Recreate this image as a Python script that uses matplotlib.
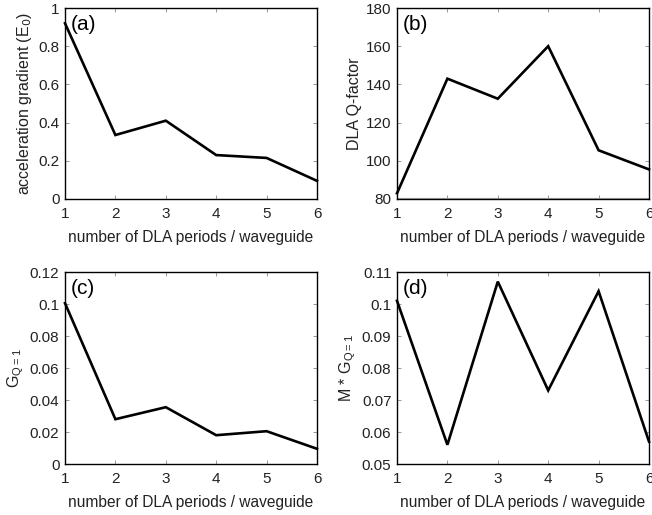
import matplotlib
matplotlib.use("Agg")
import matplotlib.pyplot as plt

plt.rcParams['font.family'] = ['Liberation Sans', 'DejaVu Sans']

periods = [1, 2, 3, 4, 5, 6]
accel_gradient = [0.92, 0.335, 0.41, 0.23, 0.215, 0.095]
q_factor = [83, 143, 132.5, 160, 105.5, 95.5]
g_q1 = [0.1005, 0.028, 0.0355, 0.018, 0.0205, 0.0095]
m_g_q1 = [0.101, 0.056, 0.107, 0.073, 0.104, 0.057]

xlabel = "number of DLA periods / waveguide"

fig = plt.figure(figsize=(6.52, 5.15), dpi=100)
W, H = 652, 515

def make_ax(l, r, t, b):
    return fig.add_axes([l / W, 1 - b / H, (r - l) / W, (b - t) / H])

axes = [
    make_ax(65, 317, 8, 199),
    make_ax(397, 649, 8, 199),
    make_ax(65, 317, 272, 464),
    make_ax(397, 649, 272, 464),
]

data = [accel_gradient, q_factor, g_q1, m_g_q1]
ylabels = ["acceleration gradient (E$_0$)", "DLA Q-factor",
           "G$_{\\mathregular{Q=1}}$", "M * G$_{\\mathregular{Q=1}}$"]
ylims = [(0, 1), (80, 180), (0, 0.12), (0.05, 0.11)]
yticks = [
    [0, 0.2, 0.4, 0.6, 0.8, 1],
    [80, 100, 120, 140, 160, 180],
    [0, 0.02, 0.04, 0.06, 0.08, 0.1, 0.12],
    [0.05, 0.06, 0.07, 0.08, 0.09, 0.1, 0.11],
]
ytl = [
    ["0", "0.2", "0.4", "0.6", "0.8", "1"],
    ["80", "100", "120", "140", "160", "180"],
    ["0", "0.02", "0.04", "0.06", "0.08", "0.1", "0.12"],
    ["0.05", "0.06", "0.07", "0.08", "0.09", "0.1", "0.11"],
]
panel = ["(a)", "(b)", "(c)", "(d)"]

for i, ax in enumerate(axes):
    ax.plot(periods, data[i], color='black', lw=1.9, clip_on=False, solid_joinstyle='miter')
    ax.set_xlim(1, 6)
    ax.set_ylim(*ylims[i])
    ax.set_xticks(periods)
    ax.set_xticklabels([str(p) for p in periods])
    ax.set_yticks(yticks[i])
    ax.set_yticklabels(ytl[i])
    ax.tick_params(direction='in', top=True, right=True, length=3, width=0.6,
                   color='#888888', labelsize=11, labelcolor='#222222')
    ax.tick_params(axis='x', pad=6)
    ax.tick_params(axis='y', pad=4)
    for s in ax.spines.values():
        s.set_linewidth(1.0)
        s.set_color('black')
    ax.set_xlabel(xlabel, fontsize=11.2, color='#222222', labelpad=6)
    ax.set_ylabel(ylabels[i], fontsize=11.5, color='#222222', labelpad=3)
    ax.text(0.024, 0.965, panel[i], transform=ax.transAxes, fontsize=15,
            va='top', ha='left', color='black')

axes[1].axhline(80.5, color='#aaaaaa', lw=0.8)

fig.savefig("out.png", dpi=100)
